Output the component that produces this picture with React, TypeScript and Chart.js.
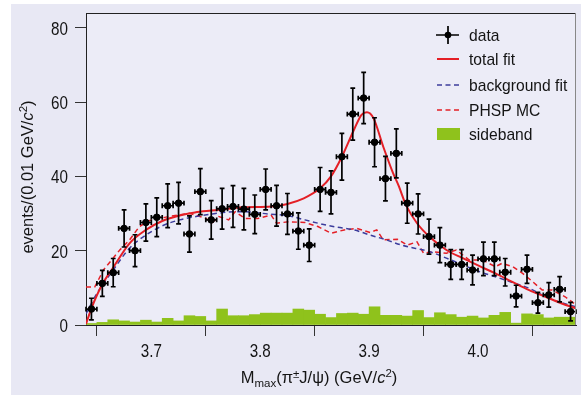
import { useEffect, useRef } from "react";
import { Chart, registerables } from "chart.js";

Chart.register(...registerables);

// ---------- data ----------
const binCenters = [
  3.645, 3.655, 3.665, 3.675, 3.685, 3.695, 3.705, 3.715, 3.725, 3.735,
  3.745, 3.755, 3.765, 3.775, 3.785, 3.795, 3.805, 3.815, 3.825, 3.835,
  3.845, 3.855, 3.865, 3.875, 3.885, 3.895, 3.905, 3.915, 3.925, 3.935,
  3.945, 3.955, 3.965, 3.975, 3.985, 3.995, 4.005, 4.015, 4.025, 4.035,
  4.045, 4.055, 4.065, 4.075, 4.085,
];
const binHalfWidth = 0.005;
const dataCounts = [
  4.3, 11.2, 14.1, 26.0, 20.0, 27.6, 29.0, 32.1, 32.8, 24.5,
  35.9, 28.3, 31.3, 31.9, 31.2, 29.8, 36.5, 32.1, 29.9, 25.3,
  21.5, 36.5, 35.7, 45.3, 56.8, 61.1, 49.2, 39.4, 46.2, 32.8,
  29.9, 23.8, 21.5, 16.3, 16.3, 14.8, 17.8, 17.8, 14.2, 7.8,
  15.0, 6.0, 8.1, 9.6, 3.6,
];
const dataErrors = [
  2.9, 3.5, 3.8, 5.0, 4.3, 5.0, 5.2, 5.9, 5.6, 4.9,
  6.2, 5.2, 5.5, 5.6, 5.6, 5.2, 5.5, 5.5, 5.5, 4.9,
  4.4, 5.9, 5.8, 6.3, 7.0, 6.9, 6.6, 6.0, 6.6, 5.4,
  5.4, 4.7, 4.7, 4.0, 4.0, 4.0, 4.5, 4.5, 3.7, 2.9,
  3.8, 2.8, 3.3, 3.4, 2.5,
];
const sidebandCounts = [
  0.4, 0.7, 1.4, 1.1, 0.8, 1.3, 0.8, 1.8, 1.1, 2.5,
  2.3, 1.1, 4.3, 2.5, 2.5, 2.8, 3.2, 3.2, 3.2, 4.3,
  4.0, 2.9, 2.0, 3.1, 3.2, 2.9, 4.9, 2.6, 2.6, 2.4,
  3.9, 2.0, 3.3, 2.8, 2.1, 2.4, 1.9, 2.6, 3.4, 0.5,
  3.0, 2.8, 1.9, 2.1, 2.1,
];
const totalFitX = [
  3.640, 3.645, 3.650, 3.655, 3.665, 3.680, 3.695, 3.710, 3.725, 3.740,
  3.755, 3.785, 3.810, 3.825, 3.840, 3.855, 3.865, 3.875, 3.886, 3.893,
  3.898, 3.904, 3.913, 3.922, 3.927, 3.934, 3.944, 3.956, 3.971, 3.986,
  4.001, 4.016, 4.031, 4.047, 4.062, 4.077, 4.090,
];
const totalFitY = [
  0.3, 4.5, 8.0, 11.0, 15.5, 22.0, 25.6, 28.0, 29.4, 30.3,
  30.8, 31.7, 31.9, 32.6, 34.1, 36.8, 40.0, 45.3, 52.5, 56.6,
  57.3, 55.7, 48.0, 40.9, 37.6, 32.2, 27.4, 23.6, 20.2, 18.0,
  15.9, 13.9, 11.7, 9.4, 7.6, 5.8, 4.5,
];
const backgroundFitX = [
  3.640, 3.650, 3.665, 3.680, 3.695, 3.710, 3.726, 3.741, 3.756, 3.771,
  3.786, 3.807, 3.826, 3.841, 3.856, 3.871, 3.886, 3.901, 3.916, 3.931,
  3.956, 3.971, 3.986, 4.001, 4.016, 4.031, 4.047, 4.062, 4.077, 4.090,
];
const backgroundFitY = [
  3.0, 8.5, 14.8, 20.7, 24.2, 26.7, 28.3, 29.2, 29.9, 30.4,
  30.5, 29.9, 29.4, 28.3, 27.2, 26.3, 25.6, 24.2, 22.9, 21.4,
  19.7, 18.0, 16.2, 14.4, 13.0, 11.5, 9.9, 7.6, 6.0, 4.9,
];
const phspX = [
  3.640, 3.648, 3.656, 3.671, 3.680, 3.689, 3.698, 3.716, 3.735, 3.750,
  3.756, 3.762, 3.771, 3.777, 3.786, 3.798, 3.810, 3.815, 3.826, 3.841,
  3.853, 3.865, 3.877, 3.889, 3.901, 3.907, 3.913, 3.926, 3.935, 3.944,
  3.950, 3.959, 3.971, 3.980, 3.992, 4.004, 4.016, 4.022, 4.032, 4.041,
  4.050, 4.059, 4.068, 4.080, 4.090,
];
const phspY = [
  10.2, 10.2, 14.8, 20.2, 22.9, 26.5, 28.1, 29.2, 30.1, 28.7,
  27.6, 29.2, 28.3, 30.5, 28.7, 28.7, 29.6, 27.4, 27.8, 27.6,
  26.5, 24.7, 25.6, 26.0, 24.9, 25.6, 22.9, 23.1, 21.5, 22.4,
  19.3, 19.7, 19.3, 20.2, 17.5, 17.5, 15.7, 16.6, 15.7, 13.9,
  11.7, 9.4, 9.4, 7.6, 5.4,
];
const xTickValues = [3.7, 3.8, 3.9, 4.0];
const xTickLabels = ["3.7", "3.8", "3.9", "4.0"];
const yTickValues = [0, 20, 40, 60, 80];
const yTickLabels = ["0", "20", "40", "60", "80"];
const legendLabels = ["data", "total fit", "background fit", "PHSP MC", "sideband"];

// ---------- styles ----------
const FONT = "'Liberation Sans', Arial, sans-serif";
const OUTER_BG = "#e8e8f4";
const INNER_BG = "#ececf7";
const RED = "#e41f26";
const BLUE = "#3c3c9c";
const GREEN = "#8fc21c";
const TEXT = "#141414";

type Seg = { t: string; size: number; italic?: boolean; dy?: number };

function segFont(s: Seg) {
  return `${s.italic ? "italic " : ""}${s.size}px ${FONT}`;
}
function measureSegs(ctx: CanvasRenderingContext2D, segs: Seg[]) {
  let w = 0;
  for (const s of segs) {
    ctx.font = segFont(s);
    w += ctx.measureText(s.t).width;
  }
  return w;
}
function drawSegs(ctx: CanvasRenderingContext2D, segs: Seg[], x0: number, y0: number) {
  let x = x0;
  for (const s of segs) {
    ctx.font = segFont(s);
    ctx.fillText(s.t, x, y0 + (s.dy || 0));
    x += ctx.measureText(s.t).width;
  }
}
// text with horizontal compression (condensed look)
function drawNarrow(
  ctx: CanvasRenderingContext2D,
  text: string,
  x: number,
  y: number,
  size: number,
  sx: number,
  align: "left" | "center" | "right"
) {
  ctx.save();
  ctx.font = `${size}px ${FONT}`;
  ctx.textAlign = "left";
  ctx.textBaseline = "alphabetic";
  const w = ctx.measureText(text).width * sx;
  let left = x;
  if (align === "center") left = x - w / 2;
  else if (align === "right") left = x - w;
  ctx.translate(left, y);
  ctx.scale(sx, 1);
  ctx.fillText(text, 0, 0);
  ctx.restore();
}

const xTitleSegs: Seg[] = [
  { t: "M", size: 16.5 },
  { t: "max", size: 11.5, dy: 4 },
  { t: "(π", size: 16.5 },
  { t: "±", size: 11.5, dy: -5 },
  { t: "J/ψ) (GeV/", size: 16.5 },
  { t: "c", size: 16.5, italic: true },
  { t: "2", size: 11.5, dy: -6.5 },
  { t: ")", size: 16.5 },
];
const yTitleSegs: Seg[] = [
  { t: "events/(0.01 GeV/", size: 16.5 },
  { t: "c", size: 16.5, italic: true },
  { t: "2", size: 11.5, dy: -6.5 },
  { t: ")", size: 16.5 },
];

const decorPlugin = {
  id: "decor",
  beforeDraw(chart: any) {
    const { ctx, chartArea } = chart;
    ctx.save();
    ctx.fillStyle = INNER_BG;
    ctx.fillRect(chartArea.left, chartArea.top, chartArea.right - chartArea.left, chartArea.bottom - chartArea.top);
    ctx.restore();
  },
  afterDatasetsDraw(chart: any) {
    const { ctx } = chart;
    const xs = chart.scales.x;
    const ys = chart.scales.y;
    ctx.save();
    ctx.strokeStyle = "#000";
    ctx.lineWidth = 1.7;
    const cap = 2.4;
    for (let i = 0; i < binCenters.length; i++) {
      const px = xs.getPixelForValue(binCenters[i]);
      const py = ys.getPixelForValue(dataCounts[i]);
      const yt = ys.getPixelForValue(dataCounts[i] + dataErrors[i]);
      const yb = ys.getPixelForValue(Math.max(0, dataCounts[i] - dataErrors[i]));
      const xl = xs.getPixelForValue(binCenters[i] - binHalfWidth);
      const xr = xs.getPixelForValue(binCenters[i] + binHalfWidth);
      ctx.beginPath();
      ctx.moveTo(px, yt);
      ctx.lineTo(px, yb);
      ctx.moveTo(px - cap, yt);
      ctx.lineTo(px + cap, yt);
      ctx.moveTo(px - cap, yb);
      ctx.lineTo(px + cap, yb);
      ctx.moveTo(xl, py);
      ctx.lineTo(xr, py);
      ctx.moveTo(xl, py - cap);
      ctx.lineTo(xl, py + cap);
      ctx.moveTo(xr, py - cap);
      ctx.lineTo(xr, py + cap);
      ctx.stroke();
    }
    ctx.restore();
  },
  afterDraw(chart: any) {
    const { ctx, chartArea } = chart;
    const xs = chart.scales.x;
    const ys = chart.scales.y;
    ctx.save();
    // frame
    ctx.strokeStyle = "#222";
    ctx.lineWidth = 1;
    ctx.beginPath();
    ctx.moveTo(chartArea.left, chartArea.top + 0.5);
    ctx.lineTo(chartArea.right, chartArea.top + 0.5);
    ctx.stroke();
    ctx.strokeStyle = "#888";
    ctx.beginPath();
    ctx.moveTo(chartArea.right - 0.5, chartArea.top);
    ctx.lineTo(chartArea.right - 0.5, chartArea.bottom);
    ctx.stroke();

    // tick labels (condensed face), positioned by the library's scales
    ctx.fillStyle = TEXT;
    xTickValues.forEach((v, i) => {
      drawNarrow(ctx, xTickLabels[i], xs.getPixelForValue(v), chartArea.bottom + 32, 19, 0.8, "center");
    });
    yTickValues.forEach((v, i) => {
      drawNarrow(ctx, yTickLabels[i], chartArea.left - 18, ys.getPixelForValue(v) + 7, 19, 0.8, "right");
    });

    // axis titles
    ctx.fillStyle = TEXT;
    ctx.textBaseline = "alphabetic";
    ctx.textAlign = "left";
    const xw = measureSegs(ctx, xTitleSegs);
    drawSegs(ctx, xTitleSegs, 308 - xw / 2, 379);
    const yw = measureSegs(ctx, yTitleSegs);
    ctx.save();
    ctx.translate(22, 173);
    ctx.rotate(-Math.PI / 2);
    drawSegs(ctx, yTitleSegs, -yw / 2, 0);
    ctx.restore();

    // legend
    const lx0 = 426;
    const lx1 = 448;
    const rows = [31, 55, 81, 106, 130];
    ctx.strokeStyle = "#000";
    ctx.lineWidth = 1.7;
    ctx.beginPath();
    ctx.moveTo(lx0 - 1, rows[0]);
    ctx.lineTo(lx1, rows[0]);
    ctx.moveTo((lx0 + lx1) / 2, rows[0] - 9);
    ctx.lineTo((lx0 + lx1) / 2, rows[0] + 9);
    ctx.stroke();
    ctx.fillStyle = "#000";
    ctx.beginPath();
    ctx.arc((lx0 + lx1) / 2, rows[0], 3.3, 0, Math.PI * 2);
    ctx.fill();
    ctx.lineWidth = 2;
    ctx.strokeStyle = RED;
    ctx.beginPath();
    ctx.moveTo(lx0, rows[1]);
    ctx.lineTo(lx1, rows[1]);
    ctx.stroke();
    ctx.setLineDash([5, 3.5]);
    ctx.lineWidth = 1.6;
    ctx.strokeStyle = BLUE;
    ctx.beginPath();
    ctx.moveTo(lx0, rows[2]);
    ctx.lineTo(lx1, rows[2]);
    ctx.stroke();
    ctx.strokeStyle = RED;
    ctx.beginPath();
    ctx.moveTo(lx0, rows[3]);
    ctx.lineTo(lx1, rows[3]);
    ctx.stroke();
    ctx.setLineDash([]);
    ctx.fillStyle = GREEN;
    ctx.fillRect(lx0, rows[4] - 6, 23, 12);
    ctx.fillStyle = TEXT;
    legendLabels.forEach((lab, i) => drawNarrow(ctx, lab, 458, rows[i] + 6, 17, 0.92, "left"));
    ctx.restore();
  },
};

export default function App() {
  const ref = useRef<HTMLCanvasElement>(null);
  useEffect(() => {
    const canvas = ref.current;
    if (!canvas) return;
    const chart = new Chart(canvas, {
      type: "scatter",
      data: {
        datasets: [
          {
            type: "scatter",
            label: "data",
            data: binCenters.map((x, i) => ({ x, y: dataCounts[i] })),
            backgroundColor: "#000",
            borderColor: "#000",
            pointRadius: 3.3,
            order: 0,
          } as any,
          {
            type: "line",
            label: "total fit",
            data: totalFitX.map((x, i) => ({ x, y: totalFitY[i] })),
            borderColor: RED,
            borderWidth: 2,
            pointRadius: 0,
            fill: false,
            cubicInterpolationMode: "monotone",
            order: 1,
          } as any,
          {
            type: "line",
            label: "PHSP MC",
            data: phspX.map((x, i) => ({ x, y: phspY[i] })),
            borderColor: RED,
            borderWidth: 1.5,
            borderDash: [5, 3.5],
            pointRadius: 0,
            fill: false,
            tension: 0,
            order: 3,
          } as any,
          {
            type: "line",
            label: "background fit",
            data: backgroundFitX.map((x, i) => ({ x, y: backgroundFitY[i] })),
            borderColor: BLUE,
            borderWidth: 1.5,
            borderDash: [5, 3.5],
            pointRadius: 0,
            fill: false,
            cubicInterpolationMode: "monotone",
            order: 2,
          } as any,
          {
            type: "bar",
            label: "sideband",
            data: binCenters.map((x, i) => ({ x, y: sidebandCounts[i] })),
            backgroundColor: GREEN,
            borderWidth: 0,
            barPercentage: 1,
            categoryPercentage: 1,
            order: 4,
          } as any,
        ],
      },
      options: {
        responsive: false,
        devicePixelRatio: 1,
        animation: false,
        events: [],
        layout: { padding: { left: 0, right: 0, top: 9, bottom: 0 } },
        plugins: {
          legend: { display: false },
          tooltip: { enabled: false },
        },
        scales: {
          x: {
            type: "linear",
            min: 3.64,
            max: 4.09,
            offset: false,
            afterBuildTicks: (s: any) => {
              s.ticks = xTickValues.map((v) => ({ value: v }));
            },
            afterFit: (s: any) => {
              s.height = 70;
            },
            ticks: { display: false },
            grid: { drawOnChartArea: false, drawTicks: true, tickLength: 11, color: "#333", lineWidth: 1 },
            border: { display: true, color: "#222", width: 1 },
            title: { display: false },
          },
          y: {
            type: "linear",
            min: 0,
            max: 84,
            afterBuildTicks: (s: any) => {
              s.ticks = yTickValues.map((v) => ({ value: v }));
            },
            afterFit: (s: any) => {
              s.width = 75;
            },
            ticks: { display: false },
            grid: { drawOnChartArea: false, drawTicks: true, tickLength: 11, color: "#333", lineWidth: 1 },
            border: { display: true, color: "#222", width: 1 },
            title: { display: false },
          },
        },
      } as any,
      plugins: [decorPlugin],
    });
    return () => chart.destroy();
  }, []);

  return (
    <div
      style={{
        position: "fixed",
        left: 11,
        top: 4,
        width: 570,
        height: 391,
        background: OUTER_BG,
      }}
    >
      <canvas ref={ref} width={570} height={391} style={{ display: "block", width: 570, height: 391 }} />
    </div>
  );
}
